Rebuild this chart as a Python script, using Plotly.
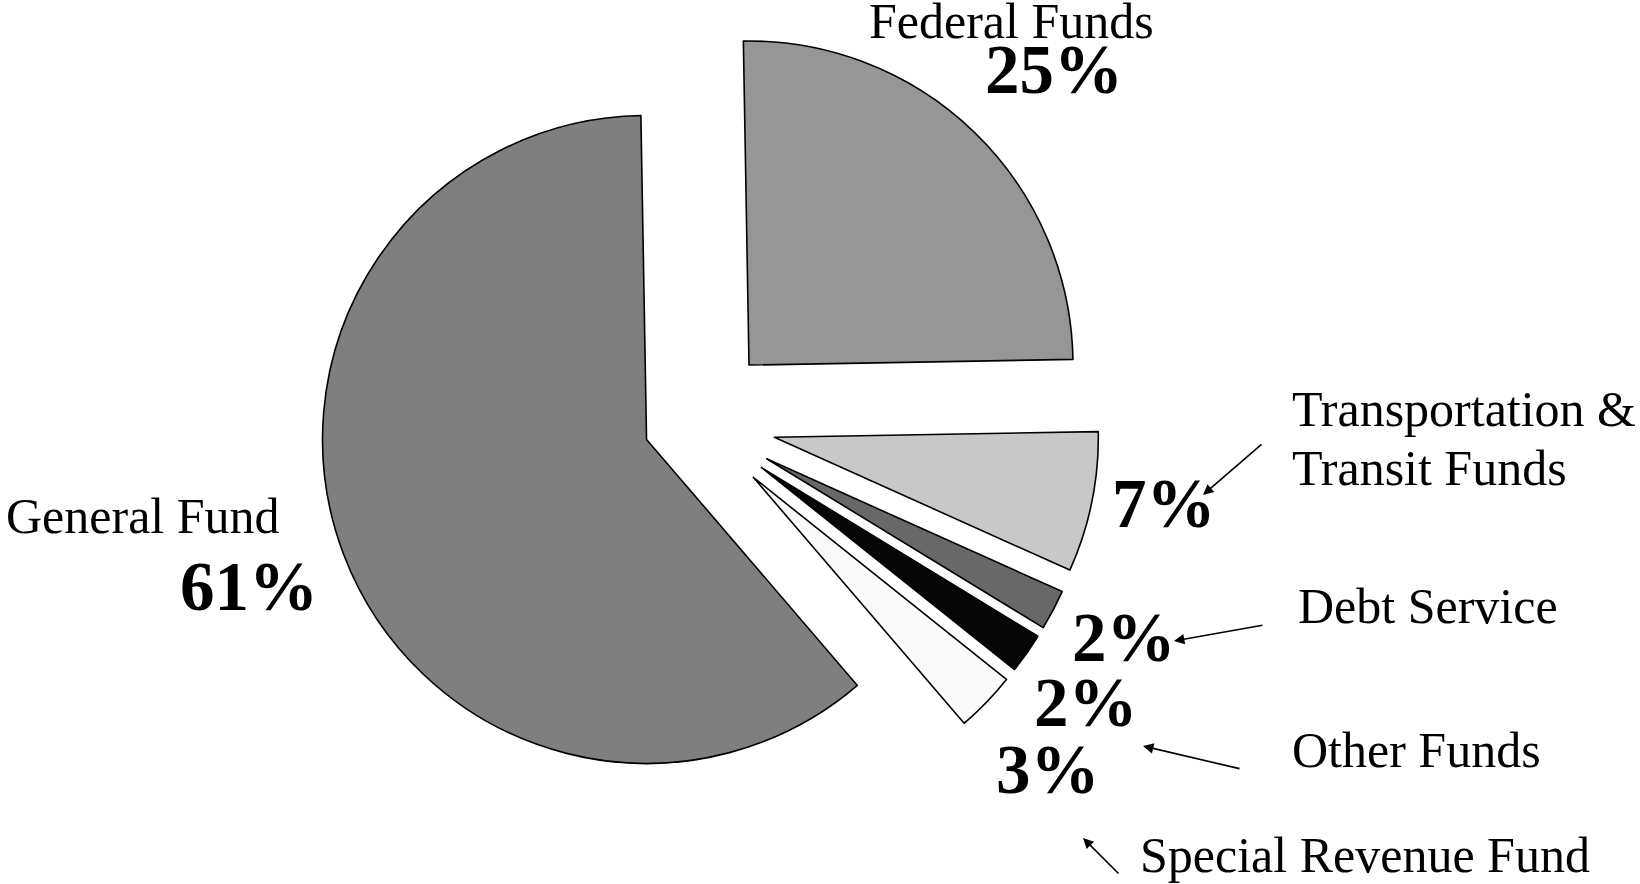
import plotly.graph_objects as go

# ---- data ----
categories = ["Federal Funds", "Transportation & Transit Funds", "Debt Service",
              "Other Funds", "Special Revenue Fund", "General Fund"]
shares = [25, 7, 2, 2, 3, 61]
pct_labels = ["25%", "7%", "2%", "2%", "3%", "61%"]
colors = ["#969696", "#c8c8c8", "#686868", "#060606", "#fafafa", "#7f7f7f"]
pulls = [0.24, 0.25, 0.25, 0.25, 0.25, 0.16]

W, H = 1640, 884


def px(x):
    return x / W


def py(y):
    return 1 - y / H


CX, CY, HALF = 695, 421, 405

fig = go.Figure()
fig.add_trace(go.Pie(
    labels=categories, values=shares, sort=False, direction="clockwise",
    rotation=-1, pull=pulls, textinfo="none", hoverinfo="label+percent",
    marker=dict(colors=colors, line=dict(color="black", width=1.6)),
    domain=dict(x=[px(CX - HALF), px(CX + HALF)], y=[py(CY + HALF), py(CY - HALF)]),
    showlegend=False,
))

reg = dict(family="Liberation Serif, Times New Roman, serif", size=50, color="black")
bold = dict(family="Liberation Serif, Times New Roman, serif", size=69, color="black")

anns = []


def label(text, x, y, font, xanchor="left", bold_=False):
    t = f"<b>{text}</b>" if bold_ else text
    anns.append(dict(text=t, x=px(x), y=py(y), xref="paper", yref="paper",
                     xanchor=xanchor, yanchor="middle", showarrow=False, font=font))


# category names
label(categories[0], 1011, 21, reg, "center")
label("Transportation &", 1290, 409, reg)
label("Transit Funds", 1290, 468, reg)
label(categories[2], 1296, 606, reg)
label(categories[3], 1290, 750, reg)
label(categories[4], 1138, 855, reg)
label(categories[5], 3.5, 516, reg)

# percentages
label(pct_labels[0], 1054, 70, bold, "center", True)
label(pct_labels[1], 1164, 504, bold, "center", True)
label(pct_labels[2], 1124, 638, bold, "center", True)
label(pct_labels[3], 1086, 703, bold, "center", True)
label(pct_labels[4], 1048, 770, bold, "center", True)
label(pct_labels[5], 249, 587, bold, "center", True)

# arrows (tip x, tip y, tail offset dx, dy)
arrows = [(1203, 495, 60, -52), (1174, 641, 90, -16), (1143, 746, 98, 23), (1083, 838, 37, 37)]
for tx, ty, dx, dy in arrows:
    anns.append(dict(text=" ", x=px(tx), y=py(ty), xref="paper", yref="paper",
                     ax=dx, ay=dy, axref="pixel", ayref="pixel", showarrow=True,
                     arrowhead=2, arrowsize=1.3, arrowwidth=1.6, arrowcolor="black",
                     standoff=0, font=dict(size=1)))

fig.update_layout(
    width=W, height=H, margin=dict(l=0, r=0, t=0, b=0),
    paper_bgcolor="white", plot_bgcolor="white",
    annotations=anns,
)

fig.write_html("out.html", config={"displayModeBar": False},
               post_script="document.body.style.margin='0px';document.body.style.overflow='hidden';")
